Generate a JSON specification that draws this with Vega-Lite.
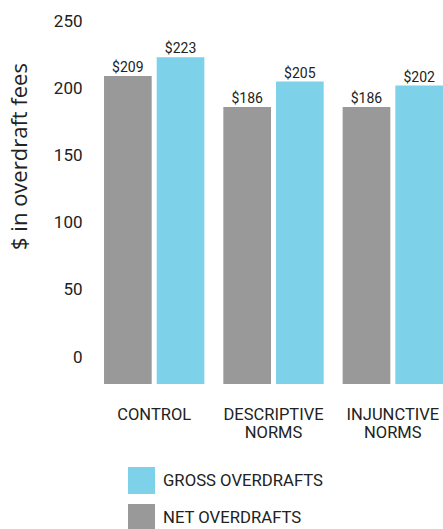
{
  "$schema": "https://vega.github.io/schema/vega-lite/v6.json",
  "autosize": "none",
  "width": 349,
  "height": 363,
  "padding": {"left": 94, "top": 21, "right": 0, "bottom": 145},
  "background": "white",
  "data": {
    "values": [
      {"group": "CONTROL", "type": "NET OVERDRAFTS", "value": 209},
      {"group": "CONTROL", "type": "GROSS OVERDRAFTS", "value": 223},
      {"group": "DESCRIPTIVE NORMS", "type": "NET OVERDRAFTS", "value": 186},
      {"group": "DESCRIPTIVE NORMS", "type": "GROSS OVERDRAFTS", "value": 205},
      {"group": "INJUNCTIVE NORMS", "type": "NET OVERDRAFTS", "value": 186},
      {"group": "INJUNCTIVE NORMS", "type": "GROSS OVERDRAFTS", "value": 202}
    ]
  },
  "encoding": {
    "x": {
      "field": "group",
      "type": "nominal",
      "sort": ["CONTROL", "DESCRIPTIVE NORMS", "INJUNCTIVE NORMS"],
      "scale": {"paddingInner": 0.159, "paddingOuter": 0.042, "align": 1},
      "axis": {
        "title": null,
        "labelAngle": 0,
        "domain": false,
        "ticks": false,
        "labelFont": "Roboto",
        "labelFontSize": 16.5,
        "labelColor": "#222222",
        "labelPadding": 22,
        "labelLineHeight": 18,
        "labelExpr": "split(datum.label, ' ')"
      }
    },
    "xOffset": {
      "field": "type",
      "type": "nominal",
      "sort": ["NET OVERDRAFTS", "GROSS OVERDRAFTS"],
      "scale": {"paddingInner": 0.095, "paddingOuter": 0}
    },
    "y": {
      "field": "value",
      "type": "quantitative",
      "scale": {"domain": [-20, 250], "nice": false, "zero": false},
      "axis": {
        "title": "$ in overdraft fees",
        "values": [0, 50, 100, 150, 200, 250],
        "grid": false,
        "domain": false,
        "ticks": false,
        "labelFont": "Roboto",
        "labelFontSize": 17,
        "labelColor": "#222222",
        "labelPadding": 12,
        "titleFont": "Open Sans",
        "titleFontSize": 22,
        "titleFontWeight": "normal",
        "titleColor": "#222222",
        "titleAngle": -90,
        "titleAlign": "center",
        "titleBaseline": "alphabetic",
        "titleX": -68,
        "titleY": 135
      }
    }
  },
  "layer": [
    {
      "mark": {"type": "bar"},
      "encoding": {
        "y2": {"datum": -20},
        "color": {
          "field": "type",
          "type": "nominal",
          "scale": {
            "domain": ["GROSS OVERDRAFTS", "NET OVERDRAFTS"],
            "range": ["#7DD1E8", "#999999"]
          },
          "legend": {
            "title": null,
            "orient": "none",
            "legendX": 34,
            "legendY": 446,
            "padding": 0,
            "offset": 0,
            "symbolType": "square",
            "symbolSize": 729,
            "symbolStrokeWidth": 0,
            "rowPadding": 10,
            "labelOffset": 8,
            "labelFont": "Roboto",
            "labelFontSize": 16.7,
            "labelColor": "#222222",
            "labelLimit": 300
          }
        }
      }
    },
    {
      "mark": {
        "type": "text",
        "baseline": "alphabetic",
        "dy": -4,
        "font": "Roboto",
        "fontSize": 14,
        "color": "#222222"
      },
      "encoding": {
        "text": {"field": "value", "type": "quantitative", "format": "$d"}
      }
    }
  ],
  "config": {
    "view": {"stroke": null}
  }
}
